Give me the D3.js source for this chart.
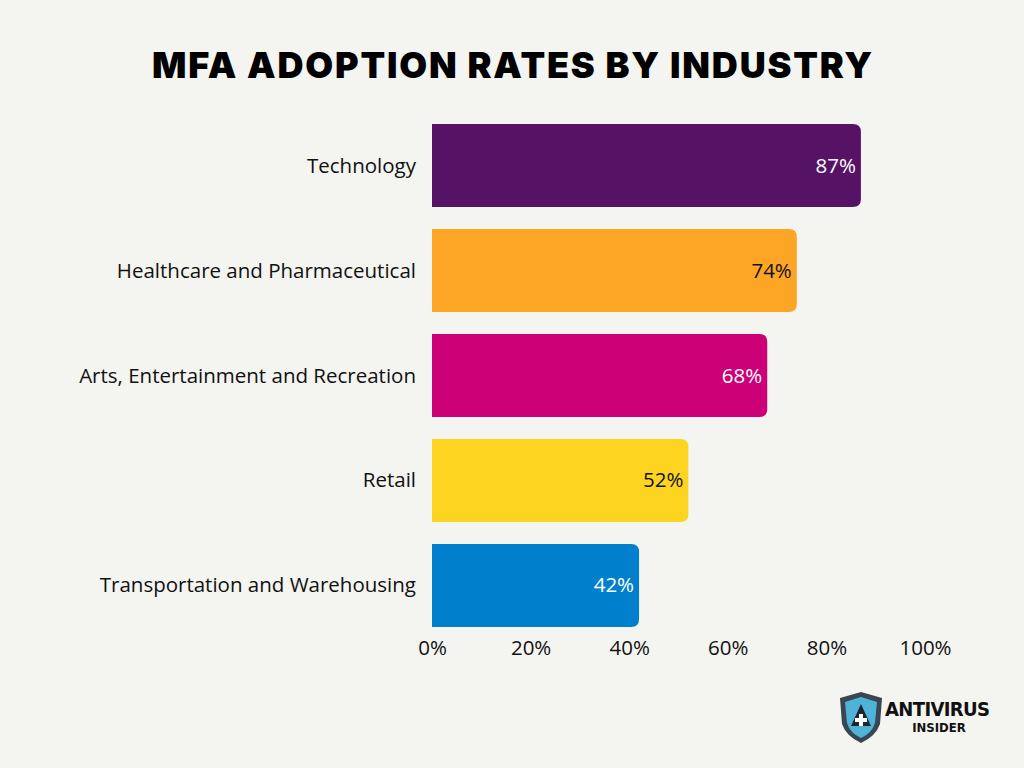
<!DOCTYPE html>
<html><head><meta charset="utf-8">
<script src="https://cdn.jsdelivr.net/npm/d3@7"></script>
<style>body{margin:0;background:#F4F4F0}svg{display:block}</style>
</head><body><svg id="c" width="1024" height="768"></svg>
<script>
const categories=["Technology","Healthcare and Pharmaceutical","Arts, Entertainment and Recreation","Retail","Transportation and Warehousing"];
const values=[87,74,68,52,42];
const colors=["#561365","#FDA626","#CC0077","#FDD520","#0080CC"];
const labelColors=["#fff","#111","#fff","#111","#fff"];
const ticks=[0,20,40,60,80,100];
const svg=d3.select("#c");
svg.append("rect").attr("width",1024).attr("height",768).attr("fill","#F4F4F0");
svg.append("text").attr("x",513).attr("y",78).attr("text-anchor","middle")
 .style("font-family","Inter").style("font-weight",900).style("font-size","36px").style("letter-spacing","1.8px")
 .attr("fill","#000").text("MFA ADOPTION RATES BY INDUSTRY");
const x=d3.scaleLinear().domain([0,100]).range([432,925]);
const y=d3.scaleBand().domain(categories).range([124,627]).paddingInner(0.2095).paddingOuter(0);
const r=8;
const fs="20.5px";
categories.forEach((c,i)=>{
 const x0=x(0),x1=x(values[i]),y0=y(c),h=y.bandwidth();
 svg.append("path").attr("fill",colors[i]).attr("d",`M${x0},${y0}H${x1-r}Q${x1},${y0} ${x1},${y0+r}V${y0+h-r}Q${x1},${y0+h} ${x1-r},${y0+h}H${x0}Z`);
 svg.append("text").attr("x",x1-5).attr("y",y0+h/2+7).attr("text-anchor","end")
  .style("font-family","Open Sans").style("font-size",fs).attr("fill",labelColors[i]).text(values[i]+"%");
 svg.append("text").attr("x",416).attr("y",y0+h/2+7).attr("text-anchor","end")
  .style("font-family","Open Sans").style("font-size",fs).attr("fill","#111").text(c);
});
const ax=svg.append("g").attr("transform","translate(0,634)").call(d3.axisBottom(x).tickValues(ticks).tickFormat(d=>d+"%").tickSize(0));
ax.select(".domain").remove();
ax.selectAll("text").style("font-family","Open Sans").style("font-size",fs).attr("fill","#111").attr("dy","0.9em");
const g=svg.append("g").attr("transform","translate(840,692)");
g.append("path").attr("d","M21,0 L42,6 L40,32 Q36,44 21,51 Q6,44 2,32 L0,6 Z").attr("fill","#3a4650");
g.append("path").attr("d","M21,5 L37,10 L35,31 Q32,41 21,46 Q10,41 7,31 L5,10 Z").attr("fill","#4fb3d9");
g.append("path").attr("d","M21,12 L31,34 L11,34 Z").attr("fill","#1d262d");
g.append("path").attr("d","M19,22h4v4h4v4h-4v4h-4v-4h-4v-4h4z").attr("fill","#fff");
g.append("text").attr("x",45).attr("y",24).attr("textLength",105).style("font-family","DejaVu Sans Condensed").style("font-weight",900).style("font-size","20px").attr("fill","#111").text("ANTIVIRUS");
g.append("text").attr("x",99).attr("y",40).attr("text-anchor","middle").style("font-family","DejaVu Sans Condensed").style("font-weight",900).style("font-size","13px").attr("fill","#111").text("INSIDER");
</script></body></html>
